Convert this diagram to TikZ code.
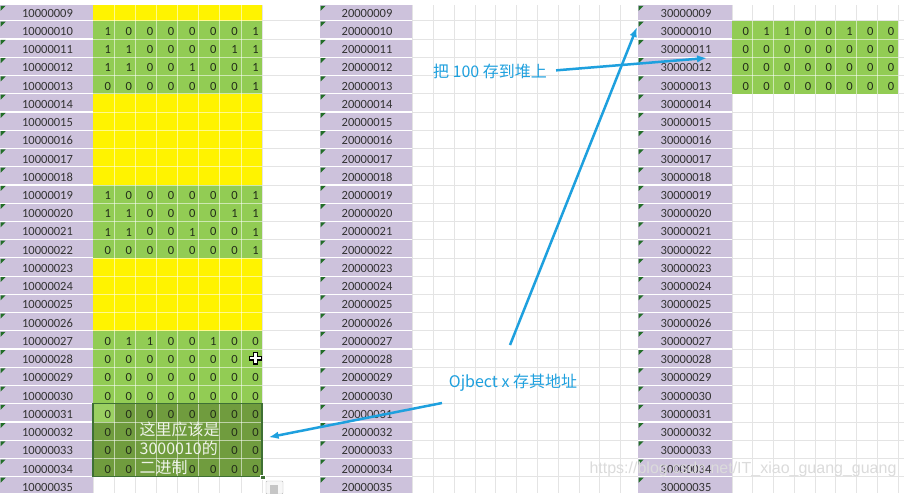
\documentclass[tikz,border=0pt]{standalone}
\usepackage{fontspec}
\setmainfont{Carlito}
\newfontfamily\cjk{Noto Sans CJK SC}
\newfontfamily\markfont{Liberation Sans}
\usetikzlibrary{arrows.meta}

\definecolor{rowpurple}{RGB}{205,194,220}
\definecolor{cellyellow}{RGB}{255,243,0}
\definecolor{cellgreen}{RGB}{146,204,84}
\definecolor{selgreen}{RGB}{112,156,62}
\definecolor{selborder}{RGB}{62,112,52}
\definecolor{gridgray}{RGB}{228,228,228}
\definecolor{flaggreen}{RGB}{34,110,40}
\definecolor{noteblue}{RGB}{30,160,222}
\definecolor{bitink}{RGB}{35,45,25}

% top edge of spreadsheet row k (row 9 is k=0)
\newcommand\rowy[1]{(2.5+18.24*(#1))}

\begin{document}
\begin{tikzpicture}[x=1pt,y=-1pt,
  gridline/.style={gridgray,line width=0.7pt},
  cellsep/.style={white,opacity=0.55,line width=0.7pt},
  addr/.style={inner sep=0pt,font=\fontsize{12.5}{13}\selectfont,text=black!80},
  bit/.style={anchor=east,inner sep=0pt,font=\fontsize{12.5}{13}\selectfont,text=bitink},
  note/.style={text=noteblue,font=\cjk\fontsize{16}{19}\selectfont,inner sep=1pt},
  seltext/.style={text=white!88!selgreen,font=\cjk\fontsize{16}{19}\selectfont,align=left,inner sep=0pt},
  pointer/.style={noteblue,line width=2.5pt,-{Latex[length=10pt,width=7.5pt]}}]
\useasboundingbox (0,0) rectangle (904,493);
\fill[white] (0,0) rectangle (904,493);

% Grid
\foreach \k in {1,...,27} \draw[gridline] (0,{\rowy{\k}}) -- (904,{\rowy{\k}});
\foreach \k in {0,...,8} \draw[gridline] ({93+21.125*\k},0) -- ({93+21.125*\k},493);
\foreach \k in {0,...,10} \draw[gridline] ({412.5+20.8*\k},0) -- ({412.5+20.8*\k},493);
\foreach \k in {0,...,8} \draw[gridline] ({732+20.75*\k},0) -- ({732+20.75*\k},493);

% Address columns
\foreach \x/\w in {0/93, 320/92, 638/94} \fill[rowpurple] (\x,0) rectangle ({\x+\w},493);

% Memory cells
\foreach \a/\b/\c in {0/1/cellyellow, 1/5/cellgreen, 5/10/cellyellow, 10/14/cellgreen,
                      14/18/cellyellow, 18/26/cellgreen, 22/26/selgreen}
  \fill[\c] (93,{\rowy{\a}}) rectangle (262,{\rowy{\b}});
\fill[cellgreen!92!white] (93,{\rowy{22}}) rectangle (114.125,{\rowy{23}});
\fill[cellgreen] (732,{\rowy{1}}) rectangle (898,{\rowy{5}});
\fill[white] (0,0) rectangle (904,4.8);

% Cell borders
\foreach \k in {1,...,7} \draw[cellsep] ({93+21.125*\k},4.8) -- ({93+21.125*\k},{\rowy{26}});
\foreach \k in {1,...,25} \draw[cellsep] (93,{\rowy{\k}}) -- (262,{\rowy{\k}});
\foreach \k in {1,...,7} \draw[cellsep] ({732+20.75*\k},{\rowy{1}}) -- ({732+20.75*\k},{\rowy{5}});
\foreach \k in {2,...,4} \draw[cellsep] (732,{\rowy{\k}}) -- (898,{\rowy{\k}});
\foreach \k in {1,...,26}
  \foreach \x/\w in {0/93, 320/92, 638/94}
    \draw[white,line width=1.2pt] (\x,{\rowy{\k}}) -- ++(\w,0);

% Addresses
\foreach \r [evaluate=\r as \n using int(9+\r),
             evaluate={\r as \ytop using max(4.8,2.5+18.24*\r)},
             evaluate=\r as \ymid using 2.5+18.24*\r+10.6] in {0,...,26} {
  \foreach \p/\x/\w in {1/0/93, 2/320/92, 3/638/94} {
    \fill[flaggreen] (\x+0.6,\ytop+1) -- ++(5,0) -- ++(-5,5) -- cycle;
    \node[addr] (addr\p-\n) at (\x+\w/2+1,\ymid) {\p00000\ifnum\n<10 0\fi\n};
  }
}

% Bits, stack side
\foreach \r/\bits in {1/{1,0,0,0,0,0,0,1}, 2/{1,1,0,0,0,0,1,1}, 3/{1,1,0,0,1,0,0,1}, 4/{0,0,0,0,0,0,0,1},
                      10/{1,0,0,0,0,0,0,1}, 11/{1,1,0,0,0,0,1,1}, 12/{1,1,0,0,1,0,0,1}, 13/{0,0,0,0,0,0,0,1},
                      18/{0,1,1,0,0,1,0,0}, 19/{0,0,0,0,0,0,0,0}, 20/{0,0,0,0,0,0,0,0}, 21/{0,0,0,0,0,0,0,0},
                      22/{0,0,0,0,0,0,0,0}, 23/{0,0,{},{},{},{},0,0}, 24/{0,0,{},{},{},{},0,0}, 25/{0,0,{},{},0,0,0,0}}
  \foreach \b [count=\c] in \bits
    \node[bit] at ({93+21.125*\c-3},{2.5+18.24*\r+10.6}) {\b};

% Bits, heap side
\foreach \r/\bits in {1/{0,1,1,0,0,1,0,0}, 2/{0,0,0,0,0,0,0,0}, 3/{0,0,0,0,0,0,0,0}, 4/{0,0,0,0,0,0,0,0}}
  \foreach \b [count=\c] in \bits
    \node[bit] at ({732+20.75*\c-3.5},{2.5+18.24*\r+10.6}) {\b};

% Selection
\node[draw=selborder,line width=1.3pt,inner sep=0pt,minimum width=169pt,minimum height=72.96pt]
  (selbox) at (177.5,{\rowy{24}}) {};
\fill[selborder,draw=white,line width=0.5pt] (selbox.south east) ++(-2.3,-2.3) rectangle ++(4.6,4.6);
\node[seltext,anchor=north west] (selnote) at (139.5,421.5) {这里应该是\\3000010的\\二进制};
\draw[gray!55,fill=gray!6,rounded corners=1pt] (266,481) rectangle (283,494);
\fill[gray!45] (270,485) rectangle (278,494);

% Mouse cursor
\draw[black,line width=5pt] (249,358) -- (262,358) (255.5,351.5) -- (255.5,364.5);
\draw[white,line width=2.6pt] (250.2,358) -- (260.8,358) (255.5,352.7) -- (255.5,363.3);

% Notes
\node[note] (heapnote) at (490,71) {把 100 存到堆上};
\node[note] (objnote) at (513,383) {Ojbect x 存其地址};
\coordinate (heaptip) at (707,58);
\coordinate (addrtip) at (637,27);
\coordinate (addrtail) at (510,345);
\coordinate (objtail) at (442,403);
\draw[pointer,shorten <=8pt] (heapnote.east) -- (heaptip);
\draw[pointer] (addrtail) -- (addrtip);
\draw[pointer] (objtail) -- ([xshift=6pt,yshift=3pt]selbox.east);

% Watermark
\node[text=gray!28,font=\markfont\fontsize{16}{18}\selectfont,inner sep=0pt] (watermark) at (743,469)
  {https://blog.csdn.net/IT\_xiao\_guang\_guang};
\end{tikzpicture}
\end{document}
